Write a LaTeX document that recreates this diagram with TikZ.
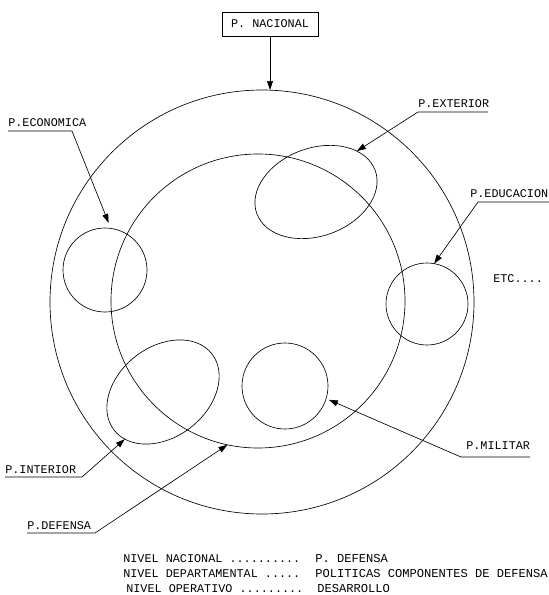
\documentclass[tikz,border=0pt]{standalone}
\usepackage{fontspec}
\setmainfont{Liberation Mono}
\usetikzlibrary{arrows.meta,shapes.geometric}
\begin{document}
\begin{tikzpicture}[x=1pt,y=-1pt,line width=0.65pt,
  txt/.style={font=\fontsize{11.8}{13}\selectfont,inner sep=0pt,anchor=base west},
  tipline/.style={-{Triangle[length=9pt,width=6pt]}},
  ring/.style={draw,circle,inner sep=0pt,outer sep=0pt},
  oval/.style={draw,ellipse,inner sep=0pt,outer sep=0pt}]
\useasboundingbox (0,0) rectangle (549,595);

% main circles
\node[ring,minimum size=424] (outer) at (262,302) {};
\node[ring,minimum size=294] (inner) at (258,301) {};

% component policies
\node[ring,minimum size=84] (eco) at (105,270) {};
\node[oval,minimum width=126,minimum height=88,rotate=20] (ext) at (316,192) {};
\node[ring,minimum size=82] (edu) at (427,304) {};
\node[oval,minimum width=124,minimum height=90,rotate=38] (int) at (163,392) {};
\node[ring,minimum size=86] (mil) at (285,386) {};

% P. NACIONAL
\node[draw,font=\fontsize{11.8}{13}\selectfont,inner xsep=9pt,minimum height=24pt] (nac) at (270,24) {P. NACIONAL};
\draw[tipline] (nac.south) -- (nac.south |- outer.north);

% labels
\node[txt] (leco) at (8,126) {P.ECONOMICA};
\coordinate (ecoA) at (8,131);
\coordinate (ecoB) at (72,131);
\draw[tipline,shorten >=6pt] (ecoA) -- (ecoB) -- (eco.82);

\node[txt] (lext) at (418,107) {P.EXTERIOR};
\coordinate (extA) at (488,112);
\coordinate (extB) at (418,112);
\draw[tipline] (extA) -- (extB) -- (ext.25);

\node[txt] (ledu) at (470,197) {P.EDUCACION};
\coordinate (eduA) at (549,202);
\coordinate (eduB) at (478,202);
\draw[tipline] (eduA) -- (eduB) -- (edu.80);

\node[txt] (letc) at (493,282) {ETC....};

\node[txt] (lint) at (5,473) {P.INTERIOR};
\coordinate (intA) at (5,477);
\coordinate (intB) at (82,477);
\draw[tipline] (intA) -- (intB) -- (int.193);

\node[txt] (ldef) at (27,529) {P.DEFENSA};
\coordinate (defA) at (27,533);
\coordinate (defB) at (95,533);
\draw[tipline] (defA) -- (defB) -- (inner.-102);

\node[txt] (lmil) at (466,449) {P.MILITAR};
\coordinate (milA) at (530,457);
\coordinate (milB) at (461,457);
\draw[tipline,shorten >=3pt] (milA) -- (milB) -- (mil.-17);

% legend
\node[txt] (n1) at (123,562) {NIVEL NACIONAL ..........};
\node[txt] (n2) at (123,577) {NIVEL DEPARTAMENTAL .....};
\node[txt] (n3) at (126,592) {NIVEL OPERATIVO .........};
\node[txt,font=\fontsize{12.1}{13}\selectfont] (r1) at (315,562) {P. DEFENSA};
\node[txt,font=\fontsize{12.1}{13}\selectfont] (r2) at (315,577) {POLITICAS COMPONENTES DE DEFENSA};
\node[txt,font=\fontsize{12.1}{13}\selectfont] (r3) at (317,592) {DESARROLLO};
\end{tikzpicture}
\end{document}
